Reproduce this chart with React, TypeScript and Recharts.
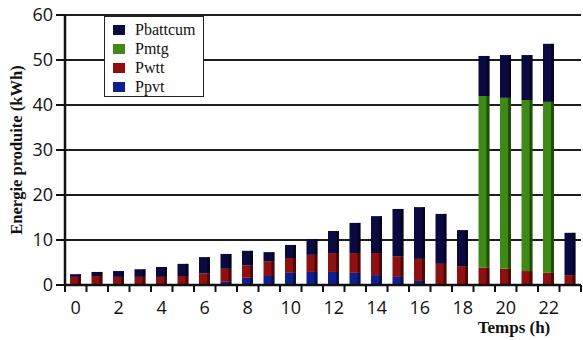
import { BarChart, Bar, XAxis, YAxis, CartesianGrid } from 'recharts';

const HOURS = ['0', '1', '2', '3', '4', '5', '6', '7', '8', '9', '10', '11', '12', '13', '14', '15', '16', '17', '18', '19', '20', '21', '22', '23'];
const PPVT = [0, 0, 0, 0, 0, 0, 0, 0.7, 1.6, 2.0, 2.7, 2.9, 2.9, 2.7, 2.2, 1.8, 0.9, 0.2, 0, 0, 0, 0, 0, 0];
const PWTT = [1.8, 2.0, 1.8, 1.8, 1.8, 2.0, 2.6, 2.9, 2.8, 3.3, 3.3, 3.8, 4.2, 4.4, 4.9, 4.6, 4.9, 4.5, 4.2, 3.9, 3.6, 3.1, 2.7, 2.2];
const PMTG = [0, 0, 0, 0, 0, 0, 0, 0, 0, 0, 0, 0, 0, 0, 0, 0, 0, 0, 0, 38.1, 38.0, 38.0, 38.0, 0];
const PBATTCUM = [0.6, 0.9, 1.3, 1.7, 2.2, 2.7, 3.6, 3.3, 3.2, 2.0, 2.9, 3.5, 4.9, 6.7, 8.2, 10.5, 11.5, 11.1, 8.0, 8.9, 9.5, 10.0, 12.9, 9.4];
const Y_TICKS = [0, 10, 20, 30, 40, 50, 60];

const COLORS = {
  Ppvt: '#0f1f8f',
  Pwtt: '#8e1010',
  Pmtg: '#3f8a17',
  Pbattcum: '#0a0a40',
};

const LEGEND = ['Pbattcum', 'Pmtg', 'Pwtt', 'Ppvt'] as const;

const data = HOURS.map((h, i) => ({
  hour: h,
  Ppvt: PPVT[i],
  Pwtt: PWTT[i],
  Pmtg: PMTG[i],
  Pbattcum: PBATTCUM[i],
}));

const HALF_BAND = 10.75;
const serif = '"Liberation Serif", "DejaVu Serif", serif';
const sans = '"Open Sans", "DejaVu Sans", sans-serif';

// column with a darker right side, a bit like the old 3D excel look
const Column = (props: any) => {
  const { x, y, width, height, fill } = props;
  if (!height || height <= 0) return null;
  return (
    <g>
      <rect x={x} y={y} width={width} height={height} fill={fill} />
      <rect x={x + width - 3} y={y} width={3} height={height} fill="#000" fillOpacity={0.45} />
    </g>
  );
};

const XTick = ({ x, y, payload, index }: any) => (
  <g>
    <line x1={x - HALF_BAND} x2={x - HALF_BAND} y1={y} y2={y + 7} stroke="#111" strokeWidth={2} />
    {index === HOURS.length - 1 && (
      <line x1={x + HALF_BAND} x2={x + HALF_BAND} y1={y} y2={y + 7} stroke="#111" strokeWidth={2} />
    )}
    {index % 2 === 0 && (
      <text x={x} y={y + 29} textAnchor="middle" fontSize={18} fontFamily={sans} fill="#111">
        {payload.value}
      </text>
    )}
  </g>
);

const YTitle = ({ viewBox }: any) => {
  const cx = 16;
  const cy = viewBox.y + viewBox.height / 2;
  return (
    <text x={cx} y={cy} transform={`rotate(-90 ${cx} ${cy})`} textAnchor="middle" dominantBaseline="central"
      fontFamily={serif} fontWeight="bold" fontSize={16.5} fill="#111">
      Energie produite (kWh)
    </text>
  );
};

const XTitle = ({ viewBox }: any) => (
  <text x={viewBox.x + viewBox.width - 67} y={333} textAnchor="middle" fontFamily={serif} fontWeight="bold" fontSize={17} fill="#111">
    Temps (h)
  </text>
);

export default function App() {
  return (
    <div style={{ position: 'absolute', left: 0, top: 0, width: 583, height: 340, background: '#fff', overflow: 'hidden' }}>
      <BarChart width={583} height={340} data={data} margin={{ top: 15, right: 2, left: 0, bottom: 0 }} barSize={11}>
        <CartesianGrid vertical={false} stroke="#1e1e1e" strokeWidth={2} />
        <XAxis dataKey="hour" height={55} tick={<XTick />} tickLine={false} tickSize={0} tickMargin={0}
          interval={0} axisLine={{ stroke: '#111', strokeWidth: 2.5 }} label={<XTitle />} />
        <YAxis domain={[0, 60]} ticks={Y_TICKS} width={65} tickSize={9} tickMargin={3}
          tick={{ fontSize: 18, fontFamily: sans, fill: '#111' }}
          tickLine={{ stroke: '#111', strokeWidth: 2 }} axisLine={{ stroke: '#111', strokeWidth: 2.5 }}
          label={<YTitle />} />
        <Bar dataKey="Ppvt" stackId="a" fill={COLORS.Ppvt} shape={<Column />} isAnimationActive={false} />
        <Bar dataKey="Pwtt" stackId="a" fill={COLORS.Pwtt} shape={<Column />} isAnimationActive={false} />
        <Bar dataKey="Pmtg" stackId="a" fill={COLORS.Pmtg} shape={<Column />} isAnimationActive={false} />
        <Bar dataKey="Pbattcum" stackId="a" fill={COLORS.Pbattcum} shape={<Column />} isAnimationActive={false} />
      </BarChart>
      <div style={{
        position: 'absolute', left: 104, top: 16, width: 100, height: 81, background: '#fff',
        border: '1.5px solid #222', padding: '4px 0 0 8px', boxSizing: 'border-box',
      }}>
        {LEGEND.map((k) => (
          <div key={k} style={{ display: 'flex', alignItems: 'center', height: 18.8 }}>
            <div style={{ width: 12, height: 10, background: COLORS[k], marginRight: 10 }} />
            <span style={{ fontFamily: serif, fontSize: 16, color: '#111' }}>{k}</span>
          </div>
        ))}
      </div>
    </div>
  );
}
